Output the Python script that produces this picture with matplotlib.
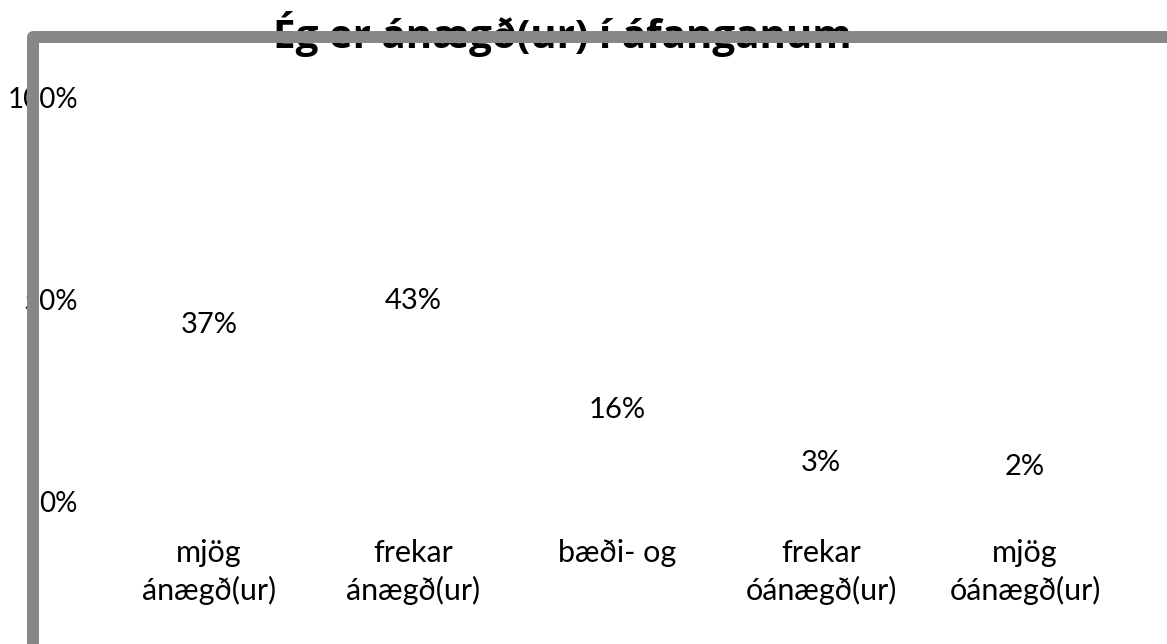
import matplotlib
matplotlib.use("Agg")
import matplotlib.pyplot as plt
from matplotlib.lines import Line2D

categories = ["mjög\nánægð(ur)", "frekar\nánægð(ur)", "bæði- og", "frekar\nóánægð(ur)", "mjög\nóánægð(ur)"]
shares = [37, 43, 16, 3, 2]
y_ticks = [0, 50, 100]
y_tick_labels = ["0%", "50%", "100%"]
title = "Ég er ánægð(ur) í áfanganum"

plt.rcParams["font.family"] = ["Lato", "DejaVu Sans"]

W, H = 1167, 644
fig = plt.figure(figsize=(W / 100, H / 100), dpi=100)
ax = fig.add_axes([107 / W, 142 / H, 1020 / W, 405 / H])

x = list(range(len(categories)))
# bars have no fill; only their value labels show
ax.bar(x, shares, width=0.6, color="none", edgecolor="none")
for i, v in enumerate(shares):
    ax.annotate(f"{v}%", (i, v), xytext=(0, 19.5), textcoords="offset points",
                ha="center", va="center", fontsize=21, color="black")

ax.set_xlim(-0.5, len(categories) - 0.5)
ax.set_ylim(0, 100)
ax.set_yticks(y_ticks)
ax.set_yticklabels(y_tick_labels, fontsize=20)
ax.set_xticks(x)
ax.set_xticklabels(categories, fontsize=22, linespacing=1.38, va="top")
ax.tick_params(axis="y", length=0, pad=21)
ax.tick_params(axis="x", length=0, pad=26.5)
for s in ax.spines.values():
    s.set_visible(False)

fig.text(562 / W, (H - 48) / H, title, ha="center", va="baseline",
         fontsize=29, fontweight="bold", color="black",
         family=["Open Sans", "DejaVu Sans"])

# gray frame along the left and top edges
frame = Line2D([33 / W, 33 / W, 1.01], [-0.01, (H - 37) / H, (H - 37) / H],
               transform=fig.transFigure, color="#878787", linewidth=8.6,
               solid_joinstyle="round", solid_capstyle="butt", zorder=5)
fig.add_artist(frame)

fig.savefig("out.png", dpi=100)
